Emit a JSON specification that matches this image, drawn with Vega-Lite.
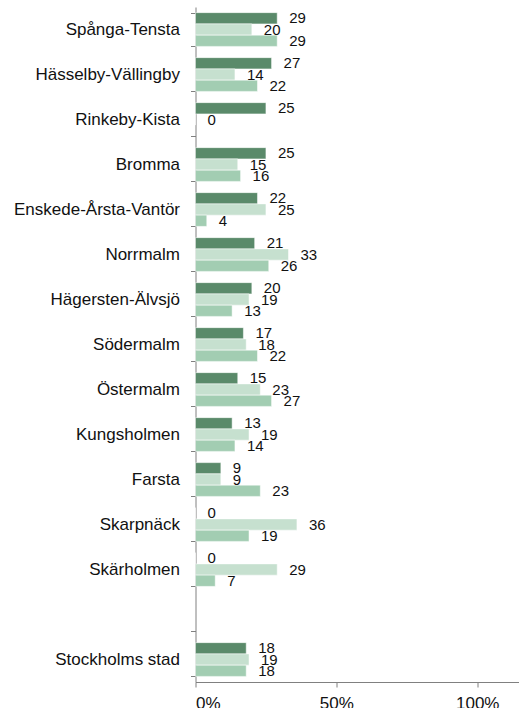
{
  "$schema": "https://vega.github.io/schema/vega-lite/v6.json",
  "autosize": {"type": "none"},
  "padding": {"left": 195.5, "top": 7, "right": 0, "bottom": 26},
  "width": 324,
  "height": 675,
  "background": "white",
  "config": {"view": {"stroke": null}, "font": "Liberation Sans"},
  "data": {"values": [
    {"omrade": "Spånga-Tensta", "serie": "s1", "v": 29},
    {"omrade": "Spånga-Tensta", "serie": "s2", "v": 20},
    {"omrade": "Spånga-Tensta", "serie": "s3", "v": 29},
    {"omrade": "Hässelby-Vällingby", "serie": "s1", "v": 27},
    {"omrade": "Hässelby-Vällingby", "serie": "s2", "v": 14},
    {"omrade": "Hässelby-Vällingby", "serie": "s3", "v": 22},
    {"omrade": "Rinkeby-Kista", "serie": "s1", "v": 25},
    {"omrade": "Rinkeby-Kista", "serie": "s2", "v": 0},
    {"omrade": "Bromma", "serie": "s1", "v": 25},
    {"omrade": "Bromma", "serie": "s2", "v": 15},
    {"omrade": "Bromma", "serie": "s3", "v": 16},
    {"omrade": "Enskede-Årsta-Vantör", "serie": "s1", "v": 22},
    {"omrade": "Enskede-Årsta-Vantör", "serie": "s2", "v": 25},
    {"omrade": "Enskede-Årsta-Vantör", "serie": "s3", "v": 4},
    {"omrade": "Norrmalm", "serie": "s1", "v": 21},
    {"omrade": "Norrmalm", "serie": "s2", "v": 33},
    {"omrade": "Norrmalm", "serie": "s3", "v": 26},
    {"omrade": "Hägersten-Älvsjö", "serie": "s1", "v": 20},
    {"omrade": "Hägersten-Älvsjö", "serie": "s2", "v": 19},
    {"omrade": "Hägersten-Älvsjö", "serie": "s3", "v": 13},
    {"omrade": "Södermalm", "serie": "s1", "v": 17},
    {"omrade": "Södermalm", "serie": "s2", "v": 18},
    {"omrade": "Södermalm", "serie": "s3", "v": 22},
    {"omrade": "Östermalm", "serie": "s1", "v": 15},
    {"omrade": "Östermalm", "serie": "s2", "v": 23},
    {"omrade": "Östermalm", "serie": "s3", "v": 27},
    {"omrade": "Kungsholmen", "serie": "s1", "v": 13},
    {"omrade": "Kungsholmen", "serie": "s2", "v": 19},
    {"omrade": "Kungsholmen", "serie": "s3", "v": 14},
    {"omrade": "Farsta", "serie": "s1", "v": 9},
    {"omrade": "Farsta", "serie": "s2", "v": 9},
    {"omrade": "Farsta", "serie": "s3", "v": 23},
    {"omrade": "Skarpnäck", "serie": "s1", "v": 0},
    {"omrade": "Skarpnäck", "serie": "s2", "v": 36},
    {"omrade": "Skarpnäck", "serie": "s3", "v": 19},
    {"omrade": "Skärholmen", "serie": "s1", "v": 0},
    {"omrade": "Skärholmen", "serie": "s2", "v": 29},
    {"omrade": "Skärholmen", "serie": "s3", "v": 7},
    {"omrade": "Stockholms stad", "serie": "s1", "v": 18},
    {"omrade": "Stockholms stad", "serie": "s2", "v": 19},
    {"omrade": "Stockholms stad", "serie": "s3", "v": 18}
  ]},
  "transform": [{"calculate": "datum.v / 100", "as": "andel"}],
  "encoding": {
    "y": {
      "field": "omrade", "type": "nominal",
      "scale": {
        "domain": ["Spånga-Tensta", "Hässelby-Vällingby", "Rinkeby-Kista", "Bromma", "Enskede-Årsta-Vantör", "Norrmalm", "Hägersten-Älvsjö", "Södermalm", "Östermalm", "Kungsholmen", "Farsta", "Skarpnäck", "Skärholmen", " ", "Stockholms stad"],
        "paddingInner": 0.25, "paddingOuter": 0.125
      },
      "axis": {
        "title": null, "tickBand": "extent", "tickSize": 5, "tickColor": "#808080",
        "domainColor": "#808080", "labelFontSize": 17, "labelColor": "#111111",
        "labelPadding": 11, "labelFont": "Liberation Sans"
      }
    },
    "yOffset": {"field": "serie", "type": "nominal", "scale": {"paddingInner": 0, "domain": ["s1", "s2", "s3"]}},
    "x": {
      "field": "andel", "type": "quantitative",
      "scale": {"domain": [0, 1.15], "nice": false},
      "axis": {
        "title": null, "values": [0, 0.5, 1], "format": ".0%", "grid": false,
        "tickSize": 5, "tickColor": "#808080", "domainColor": "#808080",
        "labelFontSize": 17, "labelColor": "#111111", "labelPadding": 8, "labelFont": "Liberation Sans"
      }
    }
  },
  "layer": [
    {
      "mark": {"type": "bar", "stroke": "white", "strokeWidth": 0.5},
      "encoding": {
        "color": {"field": "serie", "type": "nominal", "legend": null,
          "scale": {"domain": ["s1", "s2", "s3"], "range": ["#5a8a6a", "#c6e0cf", "#a2cdb2"]}}
      }
    },
    {
      "mark": {"type": "text", "align": "left", "baseline": "middle", "dx": 12, "fontSize": 15, "color": "#111111", "font": "Liberation Sans"},
      "encoding": {"text": {"field": "v", "type": "quantitative"}}
    }
  ]
}
